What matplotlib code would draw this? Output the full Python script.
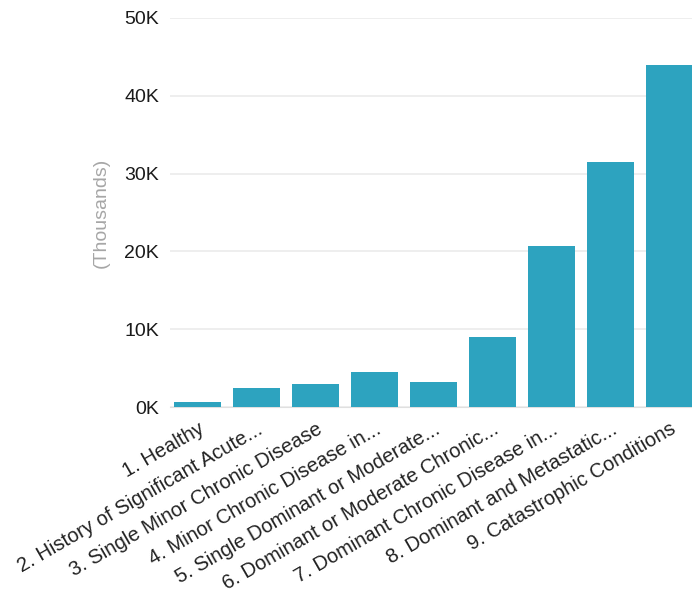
import matplotlib.pyplot as plt
from matplotlib.ticker import FuncFormatter

categories = [
    "1. Healthy",
    "2. History of Significant Acute...",
    "3. Single Minor Chronic Disease",
    "4. Minor Chronic Disease in...",
    "5. Single Dominant or Moderate...",
    "6. Dominant or Moderate Chronic...",
    "7. Dominant Chronic Disease in...",
    "8. Dominant and Metastatic...",
    "9. Catastrophic Conditions",
]
values = [650, 2400, 2900, 4450, 3200, 9000, 20700, 31500, 44000]
y_ticks = [0, 10000, 20000, 30000, 40000, 50000]

plt.rcParams["font.family"] = ["Liberation Sans", "DejaVu Sans"]

fig = plt.figure(figsize=(6.92, 5.96), dpi=100)
ax = fig.add_axes([0.2457, 0.317, 0.7543, 0.653])

x = range(len(categories))
ax.bar(x, values, width=0.8, color="#2da3bf", zorder=3)

ax.set_ylim(0, 50000)
ax.set_xlim(-0.47, 8.38)
ax.set_yticks(y_ticks)
ax.yaxis.set_major_formatter(FuncFormatter(lambda v, _: f"{v / 1000:.0f}K"))
ax.grid(axis="y", color="#ebebeb", linewidth=1.2, zorder=0)

ax.set_xticks(list(x))
ax.set_xticklabels(categories, rotation=30, ha="right", va="top",
                   rotation_mode="anchor", fontsize=14.5, color="#222222")
ax.tick_params(axis="x", length=0, pad=9)
ax.tick_params(axis="y", length=0, pad=8, labelsize=14, labelcolor="#1a1a1a")

ax.set_ylabel("(Thousands)", color="#a6a6a6", fontsize=14, labelpad=10)

for side in ["top", "right", "left"]:
    ax.spines[side].set_visible(False)
ax.spines["bottom"].set_color("#e0e0e0")

fig.savefig("out.png", dpi=100)
